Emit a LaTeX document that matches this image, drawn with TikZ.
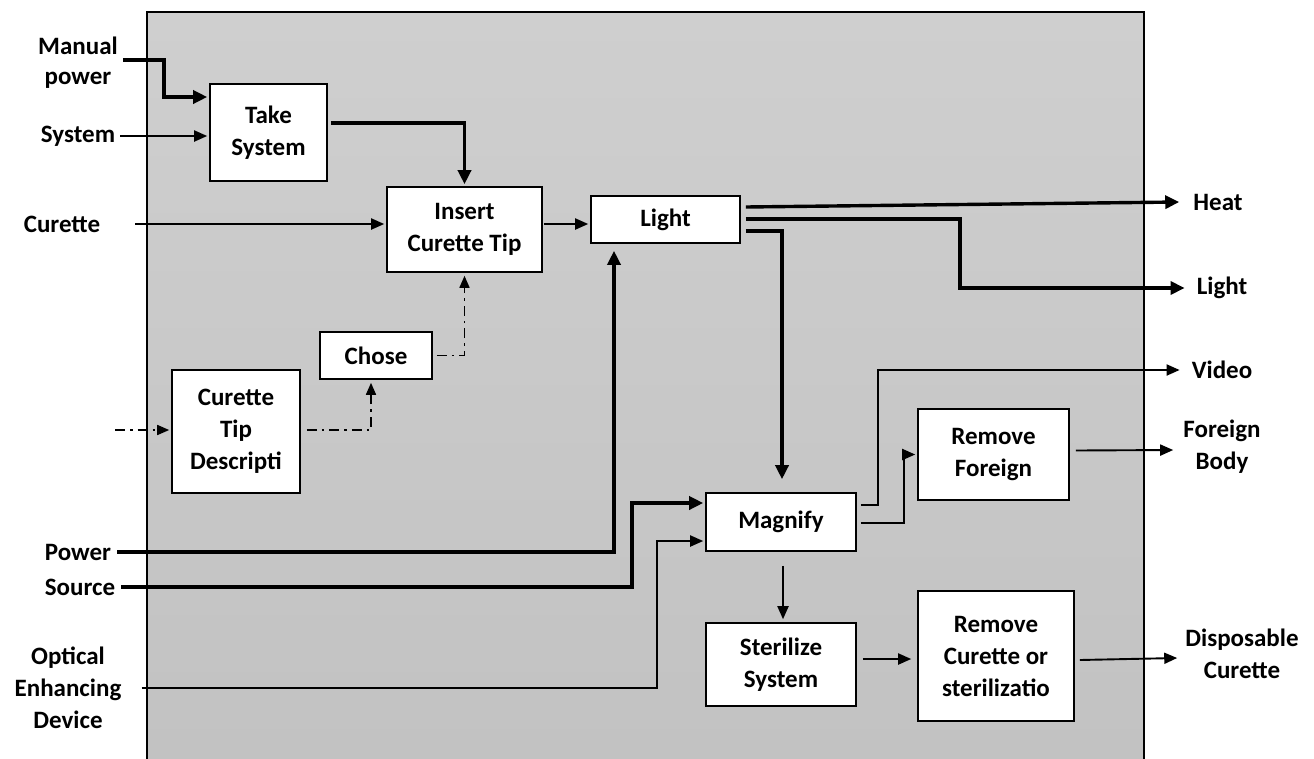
\documentclass[tikz,border=0pt]{standalone}
\usepackage{fontspec}
\setmainfont{Carlito}
\usetikzlibrary{arrows.meta,calc}
\definecolor{bgtop}{RGB}{207,207,207}
\definecolor{bgbot}{RGB}{194,194,194}
\tikzset{
  txt/.style={font=\bfseries\fontsize{25}{32}\selectfont, align=center, inner sep=0pt},
  box/.style={txt, draw=black, fill=white, line width=1.6pt},
  lbl/.style={txt},
  thk/.style={line width=3.4pt, -{Triangle[length=14pt,width=13pt]}},
  thn/.style={line width=1.9pt, -{Triangle[length=13pt,width=11pt]}},
  dd/.style={line width=1.6pt, dash pattern=on 10pt off 5pt on 2.5pt off 5pt, -{Triangle[length=12pt,width=10pt]}}
}
\begin{document}
\begin{tikzpicture}[x=1pt,y=-1pt]
\useasboundingbox (0,0) rectangle (1314,758);
\fill[white] (0,0) rectangle (1314,758);
\shade[top color=bgtop, bottom color=bgbot] (147,12) rectangle (1144,758);
\draw[line width=1.5pt] (147,760) -- (147,12) -- (1144,12) -- (1144,760);

% boxes
\node[box, minimum width=117pt, minimum height=97pt] (ts) at (268.5,132.5) {Take\\System};
\node[box, minimum width=155pt, minimum height=85pt] (ins) at (464.5,229.5) {Insert\\Curette Tip};
\node[box, minimum width=149pt, minimum height=47pt] (light) at (665.5,219.5) {Light};
\node[box, minimum width=112pt, minimum height=47pt] (chose) at (376,355.5) {Chose};
\node[box, minimum width=128pt, minimum height=123pt] (ctd) at (236,431.5) {Curette\\Tip\\Descripti};
\node[box, minimum width=150pt, minimum height=58pt] (mag) at (781,522) {Magnify};
\node[box, minimum width=151pt, minimum height=91pt] (rf) at (993.5,454.5) {Remove\\Foreign};
\node[box, minimum width=150pt, minimum height=83pt] (st) at (781,664.5) {Sterilize\\System};
\node[box, minimum width=156pt, minimum height=130pt] (rc) at (996,656) {Remove\\Curette or\\sterilizatio};

% labels
\node[lbl, font=\bfseries\fontsize{25}{30}\selectfont] (manual) at (78,63) {Manual\\power};
\node[lbl] (sysin) at (78,136) {System};
\node[lbl] (curin) at (62,224) {Curette};
\node[lbl] (power) at (78,552) {Power};
\node[lbl] (source) at (80,587) {Source};
\node[lbl] (optical) at (68,688) {Optical\\Enhancing\\Device};
\node[lbl] (heat) at (1218,202) {Heat};
\node[lbl] (lightout) at (1222,288) {Light};
\node[lbl] (video) at (1222,370) {Video};
\node[lbl] (foreign) at (1222,447) {Foreign\\Body};
\node[lbl] (disp) at (1242,654) {Disposable\\Curette};
\coordinate (ctdin) at (115,430);

% connectors
\draw[thk] ($(manual.east)+(5,-3)$) -- (164,60) -- (164,97) -- ($(ts.west)+(-2,-35.5)$);
\draw[thn] ($(sysin.east)+(5,0)$) -- ($(ts.west)+(-2,3.5)$);
\draw[thn] ($(curin.east)+(35,0)$) -- ($(ins.west)+(-2,-5.5)$);
\draw[thk] ($(ts.east)+(3,-9.5)$) -| ($(ins.north)+(0,-2)$);
\draw[thn] ($(ins.east)+(1,-5.5)$) -- ($(light.west)+(-2,4.5)$);
\draw[dd] ($(chose.east)+(4,0)$) -| ($(ins.south)+(0,3)$);
\draw[dd] (ctdin) -- ($(ctd.west)+(-2,-1.5)$);
\draw[dd] ($(ctd.east)+(6,-1.5)$) -| ($(chose.south)+(-5,3)$);
\draw[thk] ($(power.east)+(6,0)$) -| ($(light.south)+(-51.5,7)$);
\draw[thk] ($(source.east)+(6,0)$) -- (632,587) |- ($(mag.west)+(-2,-19)$);
\draw[thn] ($(optical.east)+(20,0)$) -- (657,688) |- ($(mag.west)+(-2,19)$);
\draw[thk] ($(light.east)+(5,-12.5)$) -- ($(heat.west)+(-14,0)$);
\draw[thk] ($(light.east)+(5,-0.5)$) -- (960,219) |- ($(lightout.west)+(-12,0)$);
\draw[thk] ($(light.east)+(5,11.5)$) -| ($(mag.north)+(1,-13)$);
\draw[thn] ($(mag.east)+(4,-17)$) -- (878,505) |- ($(video.west)+(-12,0)$);
\draw[thn] ($(mag.east)+(4,1)$) -- (904,523) |- ($(rf.west)+(-2,0)$);
\draw[thn] ($(rf.east)+(6,-4)$) -- ($(foreign.west)+(-10,3)$);
\draw[thn] ($(mag.south)+(2,14)$) -- ($(st.north)+(2,-3)$);
\draw[thn] ($(st.east)+(6,-5.5)$) -- ($(rc.west)+(-6,3)$);
\draw[thn] ($(rc.east)+(5,4)$) -- ($(disp.west)+(-8,4)$);
\end{tikzpicture}
\end{document}
